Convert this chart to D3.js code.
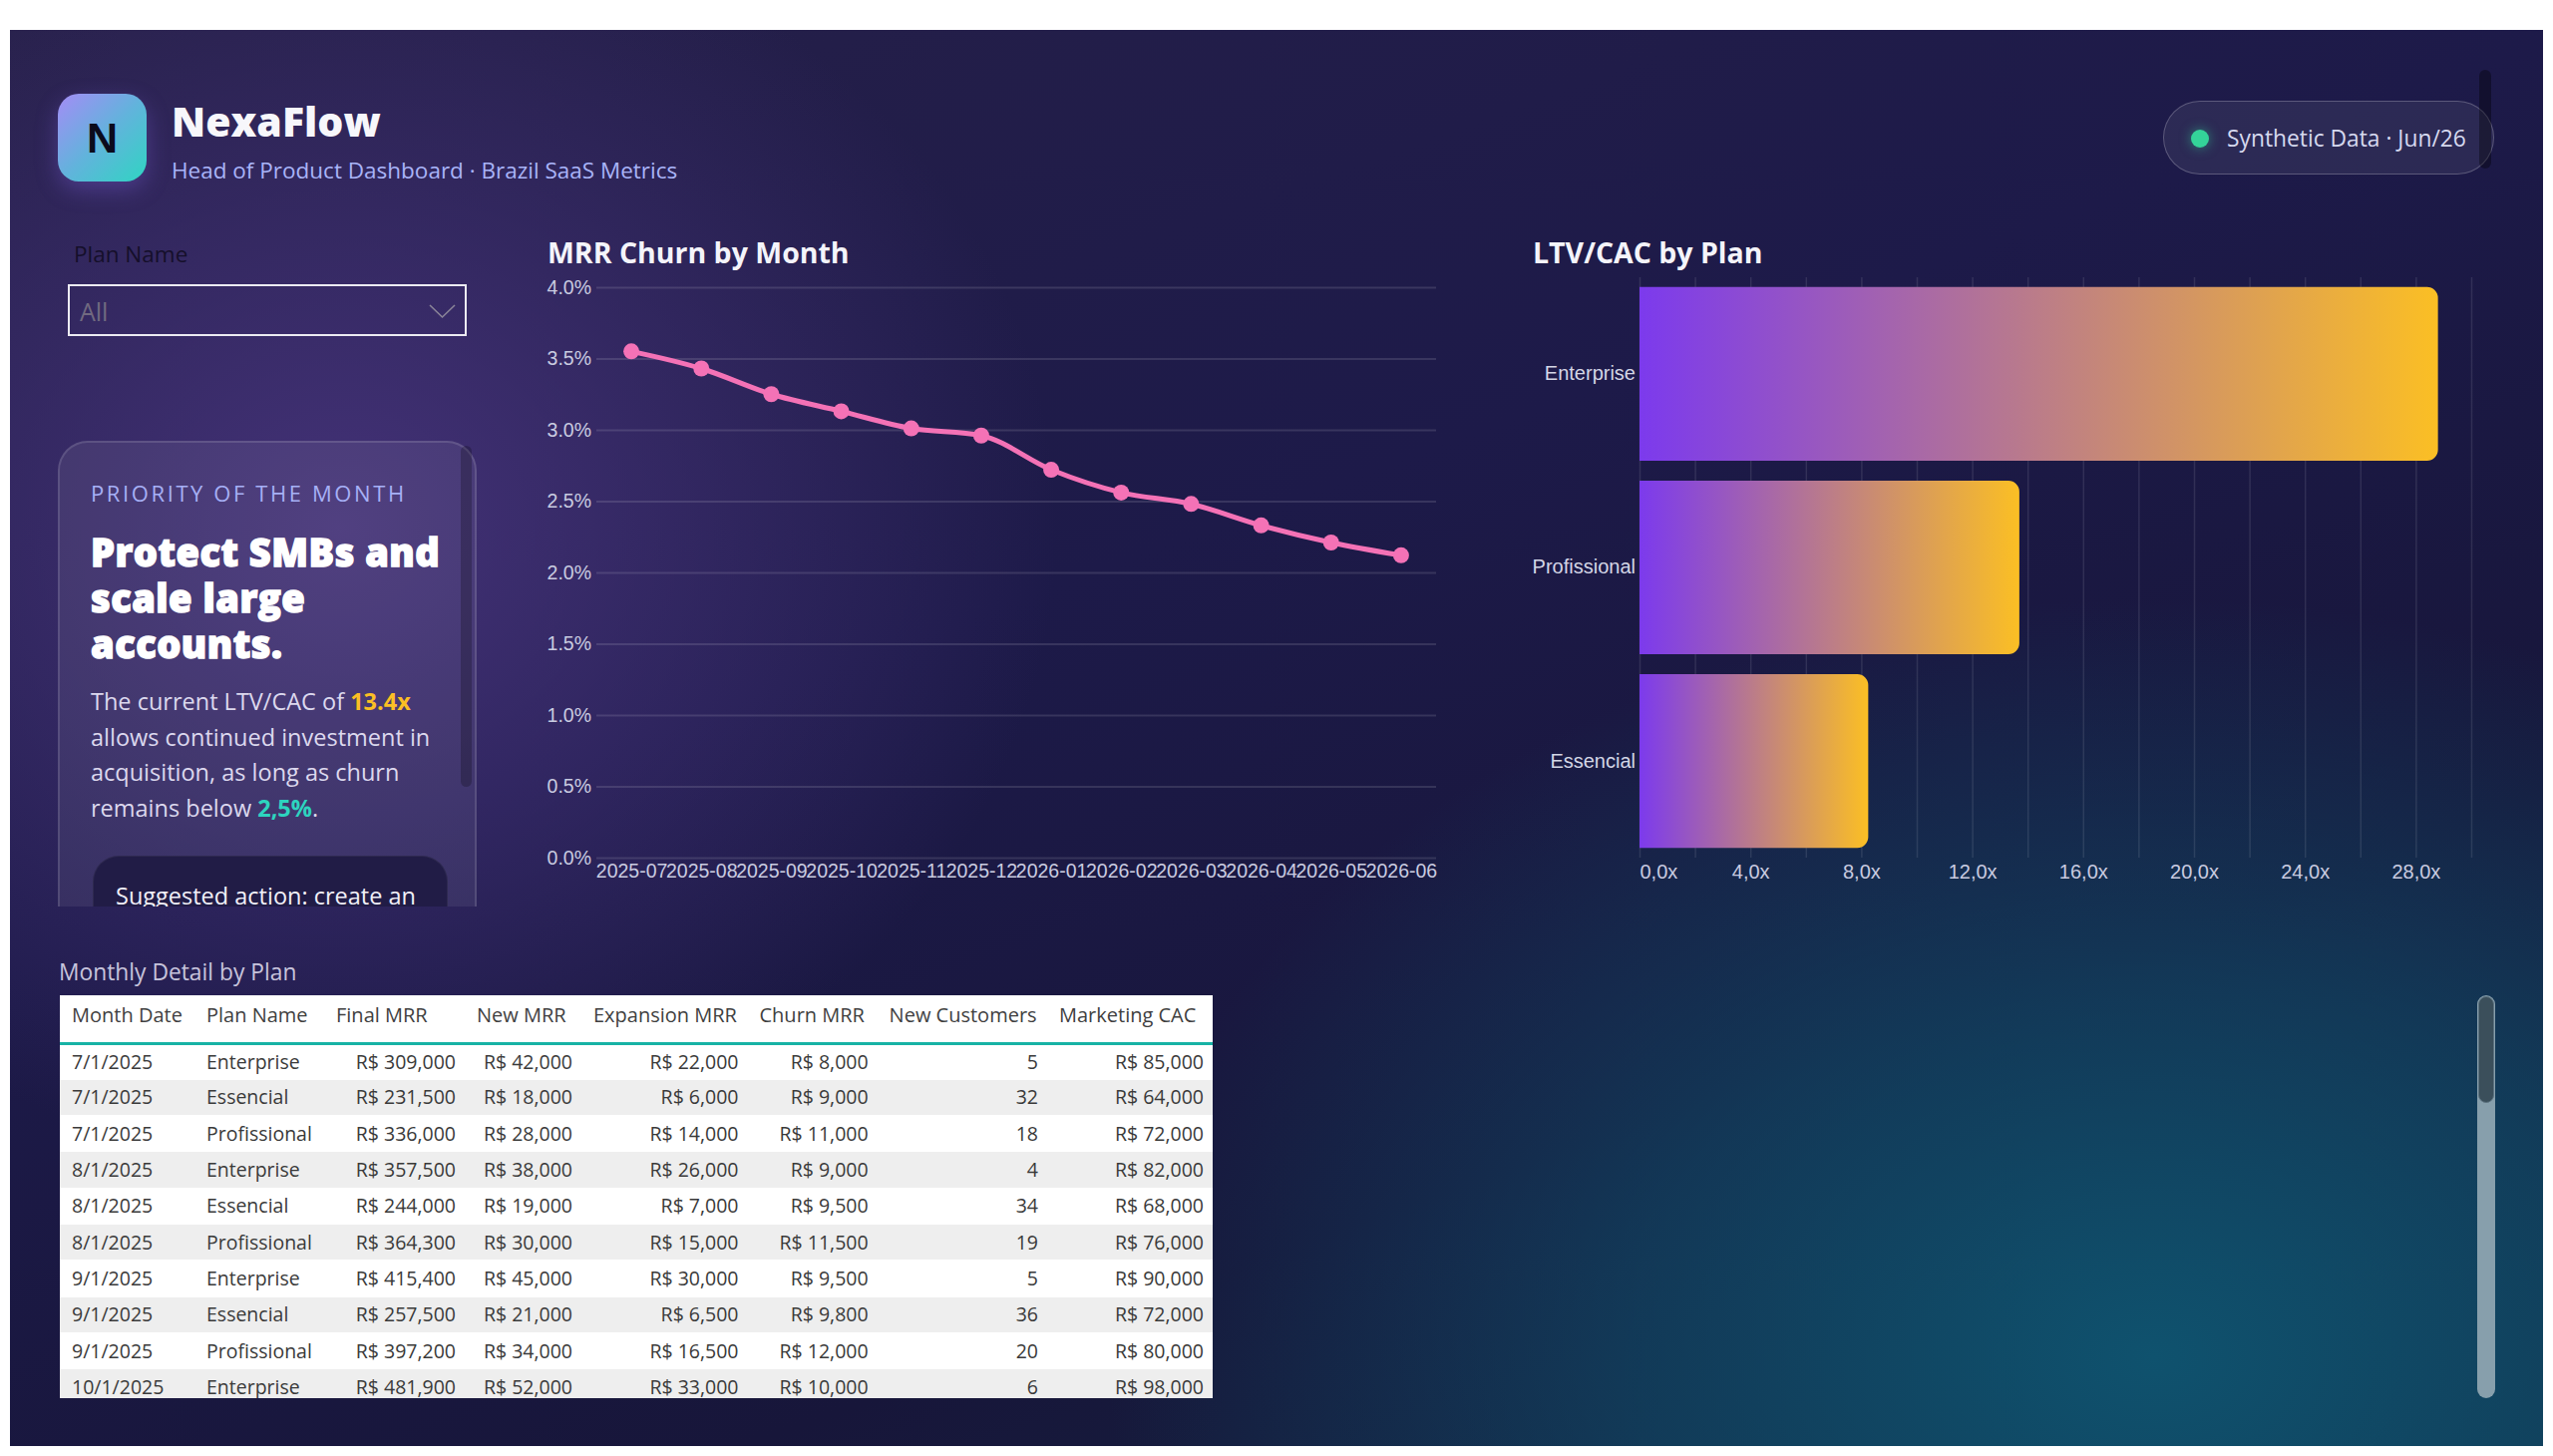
<!DOCTYPE html>
<html>
<head>
<meta charset="utf-8">
<script src="https://cdn.jsdelivr.net/npm/d3@7"></script>
<style>
html, body { margin: 0; padding: 0; background: #fff; width: 2560px; height: 1460px; overflow: hidden; }
body { font-family: "Open Sans", "Noto Sans", sans-serif; }
#page { position: relative; width: 2560px; height: 1460px; }
#panel {
  position: absolute; left: 10px; top: 30px; width: 2540px; height: 1420px;
  background:
    radial-gradient(ellipse 720px 640px at 330px 500px, rgba(74,54,128,0.85) 0%, rgba(74,54,128,0) 100%),
    radial-gradient(ellipse 1050px 760px at 2150px 1330px, rgba(15,82,110,1) 0%, rgba(15,82,110,0.55) 50%, rgba(15,82,110,0) 100%),
    linear-gradient(160deg, #262049 0%, #1d1a49 40%, #17163a 72%, #132540 100%);
}
.abs { position: absolute; white-space: nowrap; }
#logo {
  left: 58px; top: 94px; width: 89px; height: 88px; border-radius: 21px;
  background: linear-gradient(135deg, #a48cf6 0%, #62b3dc 50%, #2fd5c2 100%);
  box-shadow: 0 8px 22px rgba(130,100,230,0.35);
  font-family: "Liberation Sans", Arial, sans-serif; font-weight: bold; font-size: 43px;
  color: #0b0b1c; text-align: center; line-height: 88px;
}
#brand { left: 172px; top: 94px; font-size: 41px; font-weight: 800; color: #f7f7fb; line-height: 54px; }
#subtitle { left: 172px; top: 156px; font-size: 22.5px; color: #a9b4f8; line-height: 30px; }
#pill {
  left: 2169px; top: 101px; width: 332px; height: 74px; box-sizing: border-box; border-radius: 37px;
  background: rgba(255,255,255,0.07); border: 1.5px solid rgba(255,255,255,0.22);
}
#pill .dot { position: absolute; left: 27px; top: 28px; width: 18px; height: 18px; border-radius: 9px;
  background: #34d399; box-shadow: 0 0 12px rgba(52,211,153,0.55); }
#pill .txt { position: absolute; left: 63px; top: 22px; font-size: 22.8px; line-height: 30px; color: #d6d9ef; }
#topScroll { left: 2486px; top: 70px; width: 12px; height: 99px; border-radius: 6px; background: rgba(0,0,0,0.35); }
#planLabel { left: 74px; top: 240px; font-size: 22.5px; color: #150f2a; line-height: 30px; }
#dropdown { left: 68px; top: 285px; width: 400px; height: 52px; box-sizing: border-box; border: 2px solid #ecebf2; }
#dropdown .txt { position: absolute; left: 10px; top: 10px; font-size: 25px; line-height: 30px; color: #716a80; }
#cardClip { left: 58px; top: 440px; width: 422px; height: 469px; overflow: hidden; }
#card {
  position: absolute; left: 0; top: 2px; width: 420px; height: 620px; box-sizing: border-box;
  border-radius: 30px; border: 2px solid rgba(255,255,255,0.13); background: rgba(255,255,255,0.07);
}
#card .lbl { position: absolute; left: 31px; top: 35px; font-size: 22px; letter-spacing: 2.6px; color: #a6b0f6; line-height: 30px; }
#card .hd { position: absolute; left: 31px; font-family: "Open Sans", sans-serif; font-weight: 800;
  font-size: 38px; line-height: 46px; height: 46px; color: #ffffff; -webkit-text-stroke: 1.4px #ffffff; letter-spacing: 0.5px; }
#card .bd { position: absolute; left: 31px; top: 242px; font-size: 23.5px; line-height: 35.5px; color: #dcd8ee; }
#card .bd .y { color: #fbbf24; font-weight: 700; }
#card .bd .t { color: #2dd4bf; font-weight: 700; }
#card .sg { position: absolute; left: 33px; top: 414px; width: 356px; height: 130px; box-sizing: border-box;
  border-radius: 26px; background: #211c46; border: 1px solid rgba(255,255,255,0.06); }
#card .sg span { position: absolute; left: 22px; top: 22px; font-size: 23.5px; line-height: 34px; color: #f1f0f8; }
#card .sc { position: absolute; left: 402px; top: 3px; width: 11px; height: 342px; border-radius: 6px; background: rgba(0,0,0,0.22); }
.chartTitle { font-size: 28.5px; font-weight: 700; color: #f4f4fa; line-height: 36px; }
#tblTitle { left: 59px; top: 960px; font-size: 22.8px; color: #c7c4dc; line-height: 30px; }
#tblWrap { left: 60px; top: 998px; width: 1156px; height: 404px; overflow: hidden; background: #fff; }
#tbl { border-collapse: collapse; table-layout: fixed; width: 1156px; font-size: 19.5px; color: #3a3a3a; }
#tbl th { font-weight: 400; color: #3f3f3f; text-align: left; height: 48px; padding: 0 0 0 12px; vertical-align: top;
  line-height: 40px; border-bottom: 3px solid #17b3a5; box-sizing: border-box; font-size: 20px; }
#tbl td { height: 36.3px; padding: 0 9px 0 12px; line-height: 34px; box-sizing: border-box; border-top: 1.5px solid #fff; }
#tbl tr:nth-child(even) td { background: #eeeeee; }
#tbl td.num { text-align: right; }
#scrollTrack { left: 2484px; top: 998px; width: 18px; height: 404px; border-radius: 9px; background: #879fac; }
#scrollThumb { left: 2485px; top: 999px; width: 16px; height: 107px; border-radius: 8px; background: #3b4f5b; border: 1px solid #5c7280; box-sizing: border-box; }
svg text { font-family: "Liberation Sans", Arial, sans-serif; }
</style>
</head>
<body>
<div id="page">
  <div id="panel"></div>
  <div class="abs" id="logo">N</div>
  <div class="abs" id="brand">NexaFlow</div>
  <div class="abs" id="subtitle">Head of Product Dashboard · Brazil SaaS Metrics</div>
  <div class="abs" id="pill"><div class="dot"></div><div class="txt">Synthetic Data · Jun/26</div></div>
  <div class="abs" id="topScroll"></div>
  <div class="abs" id="planLabel">Plan Name</div>
  <div class="abs" id="dropdown"><div class="txt">All</div>
    <svg style="position:absolute;left:360px;top:18px" width="28" height="16"><path d="M1,1 L13.5,13 L26,1" fill="none" stroke="#8a8498" stroke-width="1.6"/></svg>
  </div>
  <div class="abs" id="cardClip">
    <div id="card">
      <div class="lbl">PRIORITY OF THE MONTH</div>
      <div class="hd" style="top:86px">Protect SMBs and</div>
      <div class="hd" style="top:132px">scale large</div>
      <div class="hd" style="top:178px">accounts.</div>
      <div class="bd">The current LTV/CAC of <span class="y">13.4x</span><br>allows continued investment in<br>acquisition, as long as churn<br>remains below <span class="t">2,5%</span>.</div>
      <div class="sg"><span>Suggested action: create an</span></div>
      <div class="sc"></div>
    </div>
  </div>
  <div class="abs chartTitle" style="left:549px;top:235px">MRR Churn by Month</div>
  <div class="abs chartTitle" style="left:1537px;top:235px">LTV/CAC by Plan</div>
  <div class="abs" id="tblTitle">Monthly Detail by Plan</div>
  <div class="abs" id="tblWrap"></div>
  <div class="abs" id="scrollTrack"></div>
  <div class="abs" id="scrollThumb"></div>
  <svg id="charts" class="abs" style="left:0;top:0" width="2560" height="1460"></svg>
</div>
<script>
// ---- data ----
const months = ["2025-07","2025-08","2025-09","2025-10","2025-11","2025-12",
                "2026-01","2026-02","2026-03","2026-04","2026-05","2026-06"];
const churnPct = [3.55, 3.43, 3.25, 3.13, 3.01, 2.96, 2.72, 2.56, 2.48, 2.33, 2.21, 2.12];
const churnTicks = [0, 0.5, 1, 1.5, 2, 2.5, 3, 3.5, 4];

const plans = ["Enterprise", "Profissional", "Essencial"];
const ltvCac = [28.8, 13.7, 8.25];
const ltvGrid = d3.range(0, 31, 2);
const ltvLabels = [0, 4, 8, 12, 16, 20, 24, 28];

const tableHeaders = ["Month Date","Plan Name","Final MRR","New MRR","Expansion MRR","Churn MRR","New Customers","Marketing CAC"];
const colWidths = [135, 130, 141, 117, 166.5, 130.1, 170.4, 166];
const monthDates = ["7/1/2025","7/1/2025","7/1/2025","8/1/2025","8/1/2025","8/1/2025","9/1/2025","9/1/2025","9/1/2025","10/1/2025"];
const planNames = ["Enterprise","Essencial","Profissional","Enterprise","Essencial","Profissional","Enterprise","Essencial","Profissional","Enterprise"];
const finalMrr = [309000, 231500, 336000, 357500, 244000, 364300, 415400, 257500, 397200, 481900];
const newMrr = [42000, 18000, 28000, 38000, 19000, 30000, 45000, 21000, 34000, 52000];
const expansionMrr = [22000, 6000, 14000, 26000, 7000, 15000, 30000, 6500, 16500, 33000];
const churnMrr = [8000, 9000, 11000, 9000, 9500, 11500, 9500, 9800, 12000, 10000];
const newCustomers = [5, 32, 18, 4, 34, 19, 5, 36, 20, 6];
const marketingCac = [85000, 64000, 72000, 82000, 68000, 76000, 90000, 72000, 80000, 98000];

const svg = d3.select("#charts");
const axisText = "#c9cbe0";
const gridCol = "rgba(255,255,255,0.12)";

// ---- MRR churn line chart ----
const lc = {left: 598, right: 1440, top: 288, bottom: 860};
const xL = d3.scalePoint().domain(months).range([lc.left, lc.right]).padding(0.5);
const yL = d3.scaleLinear().domain([0, 4]).range([lc.bottom, lc.top]);

const gy = svg.append("g").attr("transform", `translate(${lc.left},0)`)
  .call(d3.axisLeft(yL).tickValues(churnTicks).tickSize(-(lc.right - lc.left)).tickPadding(5)
    .tickFormat(d => d.toFixed(1) + "%"));
gy.select(".domain").remove();
gy.selectAll("line").attr("stroke", gridCol).attr("stroke-width", 2);
gy.selectAll("text").attr("fill", axisText).attr("font-size", 19.5);

const gx = svg.append("g").attr("transform", `translate(0,${lc.bottom})`)
  .call(d3.axisBottom(xL).tickSize(0).tickPadding(6));
gx.select(".domain").remove();
gx.selectAll("text").attr("fill", axisText).attr("font-size", 19.5);

const line = d3.line().x((d, i) => xL(months[i])).y(d => yL(d)).curve(d3.curveMonotoneX);
svg.append("path").datum(churnPct).attr("d", line)
  .attr("fill", "none").attr("stroke", "#f472b6").attr("stroke-width", 5).attr("stroke-linejoin", "round");
svg.append("g").selectAll("circle").data(churnPct).join("circle")
  .attr("cx", (d, i) => xL(months[i])).attr("cy", d => yL(d)).attr("r", 8).attr("fill", "#f472b6");

// ---- LTV/CAC bar chart ----
const bc = {left: 1644, right: 2478, top: 278, bottom: 860};
const xB = d3.scaleLinear().domain([0, 30]).range([bc.left, bc.right]);
const yB = d3.scaleBand().domain(plans).range([bc.top, bc.bottom]).paddingInner(0.103).paddingOuter(0.05);

const gg = svg.append("g").attr("transform", `translate(0,${bc.bottom})`)
  .call(d3.axisBottom(xB).tickValues(ltvGrid).tickSize(-(bc.bottom - bc.top)).tickPadding(7)
    .tickFormat(d => ltvLabels.includes(d) ? d3.format(".1f")(d).replace(".", ",") + "x" : ""));
gg.select(".domain").remove();
gg.selectAll("line").attr("stroke", "rgba(255,255,255,0.1)").attr("stroke-width", 1.5);
gg.selectAll("text").attr("fill", axisText).attr("font-size", 20);
gg.selectAll(".tick").filter(d => d === 0).select("text").attr("text-anchor", "start");

const gc = svg.append("g").attr("transform", `translate(${bc.left},0)`)
  .call(d3.axisLeft(yB).tickSize(0).tickPadding(4));
gc.select(".domain").remove();
gc.selectAll("text").attr("fill", "#d4d6e6").attr("font-size", 20);

const defs = svg.append("defs");
plans.forEach((p, i) => {
  const g = defs.append("linearGradient").attr("id", "bg" + i)
    .attr("gradientUnits", "userSpaceOnUse")
    .attr("x1", xB(0)).attr("x2", xB(ltvCac[i])).attr("y1", 0).attr("y2", 0);
  g.append("stop").attr("offset", 0).attr("stop-color", "#7c3aed");
  g.append("stop").attr("offset", 1).attr("stop-color", "#fbbf24");
});
function barPath(x0, y0, w, h, r) {
  return `M${x0},${y0}H${x0 + w - r}A${r},${r} 0 0 1 ${x0 + w},${y0 + r}V${y0 + h - r}` +
         `A${r},${r} 0 0 1 ${x0 + w - r},${y0 + h}H${x0}Z`;
}
svg.append("g").selectAll("path").data(plans).join("path")
  .attr("d", (p, i) => barPath(xB(0), yB(p), xB(ltvCac[i]) - xB(0), yB.bandwidth(), 11))
  .attr("fill", (p, i) => `url(#bg${i})`);

// ---- table ----
const money = v => "R$ " + d3.format(",")(v);
const rows = monthDates.map((d, i) => [
  {v: d}, {v: planNames[i]}, {v: money(finalMrr[i]), n: 1}, {v: money(newMrr[i]), n: 1},
  {v: money(expansionMrr[i]), n: 1}, {v: money(churnMrr[i]), n: 1}, {v: newCustomers[i], n: 1},
  {v: money(marketingCac[i]), n: 1}
]);
const tbl = d3.select("#tblWrap").append("table").attr("id", "tbl");
tbl.append("colgroup").selectAll("col").data(colWidths).join("col").style("width", d => d + "px");
tbl.append("thead").append("tr").selectAll("th").data(tableHeaders).join("th").text(d => d);
tbl.append("tbody").selectAll("tr").data(rows).join("tr")
  .selectAll("td").data(d => d).join("td")
  .attr("class", d => d.n ? "num" : null)
  .text(d => d.v);
</script>
</body>
</html>
